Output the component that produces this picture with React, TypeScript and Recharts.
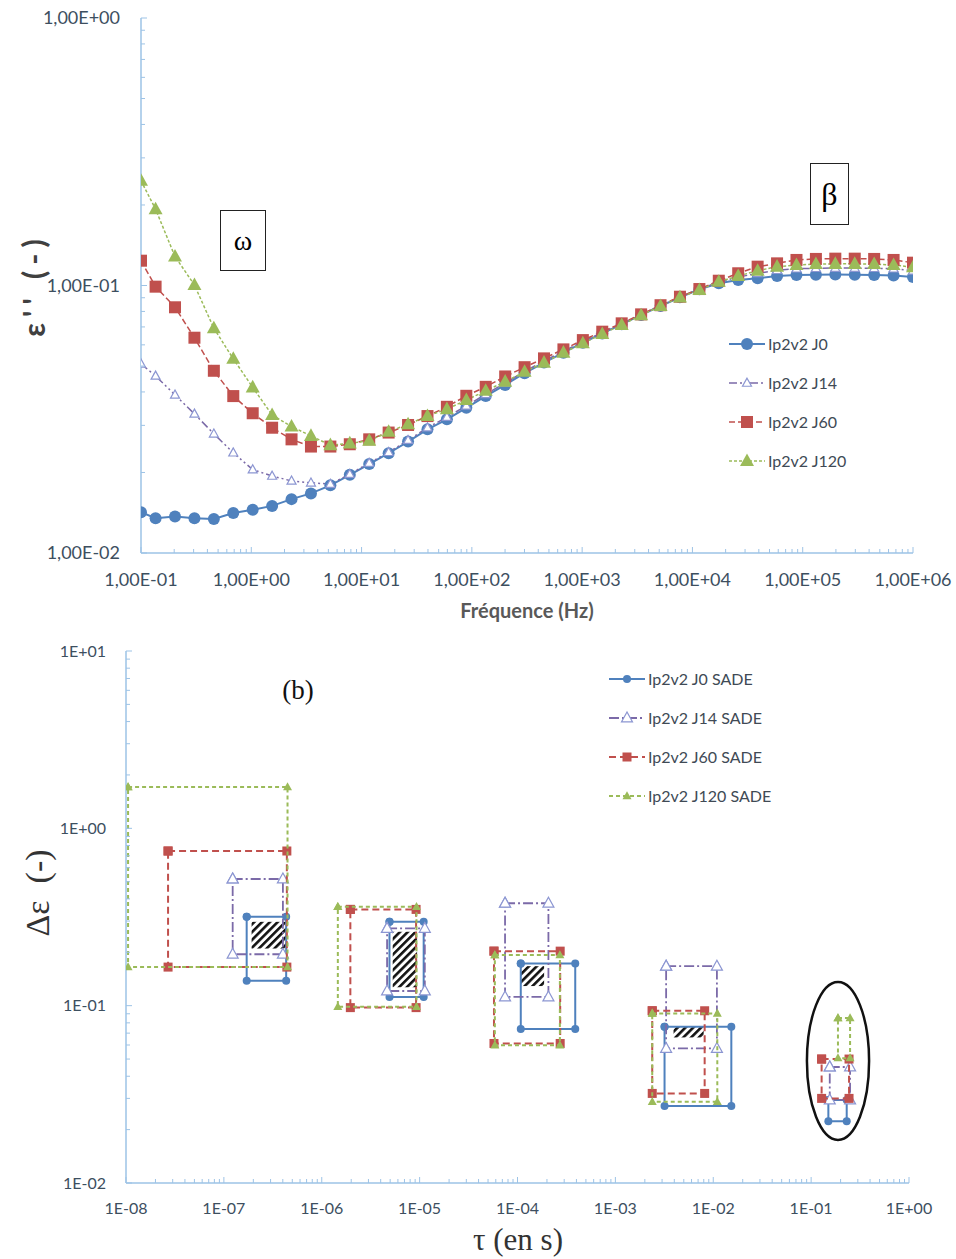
import { LineChart, Line, XAxis, YAxis, ScatterChart, Scatter, ReferenceArea, Legend } from 'recharts';

// ---- (a) epsilon'' vs frequency ----
const FREQ = [
  0.1, 0.1356, 0.2034, 0.3052, 0.4577, 0.6866, 1.03, 1.545, 2.317, 3.476, 5.214, 7.821, 11.73, 17.6, 26.4,
  39.6, 59.39, 89.09, 133.6, 200.5, 300.7, 451, 676.6, 1015, 1522, 2284, 3426, 5139, 7708, 11562, 17342,
  26014, 39021, 58531, 87796, 131694, 197540, 296311, 444467, 666700, 1000000,
];
const EPS_J0 = [
  0.0142, 0.0135, 0.0137, 0.0135, 0.0134, 0.0141, 0.0145, 0.015, 0.0159, 0.0167, 0.0179, 0.0196, 0.0215, 0.0236,
  0.0261, 0.029, 0.0316, 0.0349, 0.0386, 0.0425, 0.047, 0.0515, 0.0561, 0.0611, 0.0662, 0.0716, 0.0776, 0.0838,
  0.0903, 0.0968, 0.1019, 0.1049, 0.1064, 0.1085, 0.1095, 0.1098, 0.11, 0.1098, 0.1095, 0.109, 0.1075,
];
const EPS_J14 = [
  0.0509, 0.0459, 0.039, 0.0331, 0.0279, 0.0237, 0.0205, 0.0194, 0.0186, 0.0183, 0.0181, 0.0197, 0.0217, 0.0238,
  0.0264, 0.0294, 0.0322, 0.0355, 0.0392, 0.0432, 0.0477, 0.0522, 0.0568, 0.0617, 0.0667, 0.072, 0.0779, 0.084,
  0.0905, 0.0968, 0.103, 0.1075, 0.111, 0.114, 0.1155, 0.116, 0.1162, 0.1162, 0.116, 0.1155, 0.1135,
];
const EPS_J60 = [
  0.1238, 0.099, 0.0829, 0.0638, 0.048, 0.0386, 0.0333, 0.0294, 0.0266, 0.025, 0.025, 0.0255, 0.0266, 0.0282,
  0.0301, 0.0325, 0.0352, 0.0387, 0.0418, 0.0457, 0.0495, 0.0534, 0.0577, 0.0625, 0.0672, 0.0722, 0.078, 0.0844,
  0.0908, 0.097, 0.1042, 0.1111, 0.1176, 0.121, 0.1246, 0.1257, 0.126, 0.126, 0.1257, 0.1246, 0.1217,
];
const EPS_J120 = [
  0.2465, 0.1928, 0.1283, 0.1004, 0.0692, 0.0532, 0.0416, 0.0328, 0.0297, 0.0274, 0.0253, 0.0257, 0.0263, 0.0284,
  0.0303, 0.0325, 0.0345, 0.0373, 0.0404, 0.0437, 0.0476, 0.0515, 0.0561, 0.0608, 0.0659, 0.0712, 0.0774, 0.0838,
  0.0903, 0.0962, 0.1033, 0.1085, 0.1136, 0.1176, 0.1193, 0.1203, 0.1205, 0.1205, 0.1203, 0.1193, 0.117,
];
const TOP_NAMES = ['Ip2v2 J0', 'Ip2v2 J14', 'Ip2v2 J60', 'Ip2v2 J120'];
const TOP_X_TICKS = [0.1, 1, 10, 100, 1000, 10000, 100000, 1000000];
const TOP_X_LABELS = ['1,00E-01', '1,00E+00', '1,00E+01', '1,00E+02', '1,00E+03', '1,00E+04', '1,00E+05', '1,00E+06'];
const TOP_Y_TICKS = [0.01, 0.1, 1];
const TOP_Y_LABELS = ['1,00E-02', '1,00E-01', '1,00E+00'];

// ---- (b) relaxation boxes: [tauMin, tauMax, deltaEpsMin, deltaEpsMax] ----
const BOX_J0 = [
  [1.71e-7, 4.33e-7, 0.138, 0.317],
  [4.92e-6, 1.1e-5, 0.112, 0.297],
  [1.08e-4, 3.89e-4, 0.0738, 0.173],
  [3.18e-3, 1.53e-2, 0.0272, 0.076],
  [0.15, 0.231, 0.0223, 0.0294],
];
const BOX_J14 = [
  [1.23e-7, 4.01e-7, 0.195, 0.518],
  [4.65e-6, 1.13e-5, 0.121, 0.273],
  [7.46e-5, 2.07e-4, 0.112, 0.378],
  [3.3e-3, 1.09e-2, 0.0574, 0.167],
  [0.155, 0.25, 0.0294, 0.0451],
];
const BOX_J60 = [
  [2.69e-8, 4.4e-7, 0.165, 0.745],
  [1.96e-6, 9.2e-6, 0.0975, 0.349],
  [5.75e-5, 2.73e-4, 0.0612, 0.203],
  [2.38e-3, 8.17e-3, 0.032, 0.0936],
  [0.128, 0.244, 0.03, 0.05],
];
const BOX_J120 = [
  [1.05e-8, 4.47e-7, 0.165, 1.71],
  [1.46e-6, 9.29e-6, 0.0986, 0.361],
  [5.87e-5, 2.71e-4, 0.0599, 0.193],
  [2.38e-3, 1.1e-2, 0.0287, 0.0904],
  [0.188, 0.25, 0.0506, 0.0851],
];
const HATCHED = [
  [1.92e-7, 4.33e-7, 0.21, 0.297],
  [5.31e-6, 9.42e-6, 0.127, 0.261],
  [1.08e-4, 1.87e-4, 0.129, 0.167],
  [3.93e-3, 7.98e-3, 0.0662, 0.0767],
];
const CIRCLED = [0.0906, 0.391, 0.0175, 0.136];
const BOT_NAMES = ['Ip2v2 J0 SADE', 'Ip2v2 J14 SADE', 'Ip2v2 J60 SADE', 'Ip2v2 J120 SADE'];
const BOT_X_TICKS = [1e-8, 1e-7, 1e-6, 1e-5, 1e-4, 1e-3, 1e-2, 1e-1, 1];
const BOT_X_LABELS = ['1E-08', '1E-07', '1E-06', '1E-05', '1E-04', '1E-03', '1E-02', '1E-01', '1E+00'];
const BOT_Y_TICKS = [0.01, 0.1, 1, 10];
const BOT_Y_LABELS = ['1E-02', '1E-01', '1E+00', '1E+01'];

const SANS = 'Lato, "Open Sans", sans-serif';
const SERIF = '"Liberation Serif", "DejaVu Serif", serif';
const AXIS = '#9dc3e6';
const TICK_TEXT = '#3d4f5f';

const BLUE = '#4f81bd';
const RED = '#c0504d';
const GREEN = '#9bbb59';
const LAVENDER = '#8c96d2';
const PURPLE = '#7b6aa8';

const withMinors = (majors: number[]) =>
  majors.concat(majors.slice(0, -1).flatMap((m) => [2, 3, 4, 5, 6, 7, 8, 9].map((k) => m * k)));

function marker(kind: string, size: number, color: string, cx: number, cy: number, key?: any) {
  if (cx == null || cy == null) return <g key={key} />;
  if (kind === 'circle') return <circle key={key} cx={cx} cy={cy} r={size / 2} fill={color} />;
  if (kind === 'square')
    return <rect key={key} x={cx - size / 2} y={cy - size / 2} width={size} height={size} fill={color} />;
  const h = size * 0.9;
  const pts = `${cx},${cy - h * 0.6} ${cx - size / 2},${cy + h * 0.4} ${cx + size / 2},${cy + h * 0.4}`;
  if (kind === 'hollow') return <polygon key={key} points={pts} fill="#fff" stroke={color} strokeWidth={1.2} />;
  return <polygon key={key} points={pts} fill={color} />;
}

function AxisTick(props: any) {
  const { x, y, payload, majors, labels, side, gap, size } = props;
  const i = majors.findIndex((m: number) => Math.abs(Math.log10(m / payload.value)) < 1e-6);
  const len = i >= 0 ? 6 : 4;
  const textStyle = { fontFamily: SANS, fontSize: size, fill: TICK_TEXT };
  if (side === 'left') {
    const ax = x + gap;
    return (
      <g>
        <line x1={ax} x2={ax + len} y1={y} y2={y} stroke={AXIS} strokeWidth={1} />
        {i >= 0 && (
          <text x={x} y={y} dy="0.35em" textAnchor="end" style={textStyle}>
            {labels[i]}
          </text>
        )}
      </g>
    );
  }
  const ay = y - gap;
  return (
    <g>
      <line x1={x} x2={x} y1={ay} y2={ay - len} stroke={AXIS} strokeWidth={1} />
      {i >= 0 && (
        <text x={x} y={y} dy="0.75em" textAnchor="middle" style={textStyle}>
          {labels[i]}
        </text>
      )}
    </g>
  );
}

function SeriesLegend({ items, names }: any) {
  return (
    <div style={{ fontFamily: SANS, fontSize: 16, color: '#404a55' }}>
      {items.map((it: any, i: number) => (
        <div key={names[i]} style={{ display: 'flex', alignItems: 'center', height: 39 }}>
          <svg width={38} height={16}>
            <line x1={1} x2={37} y1={8} y2={8} stroke={it.line} strokeWidth={it.width} strokeDasharray={it.dash} />
            {marker(it.kind, it.size, it.color, 19, 8)}
          </svg>
          <span style={{ marginLeft: 2 }}>{names[i]}</span>
        </div>
      ))}
    </div>
  );
}

const TOP_STYLE = [
  { key: 'j0', kind: 'circle', size: 12, color: BLUE, line: BLUE, width: 2, dash: undefined },
  { key: 'j14', kind: 'hollow', size: 9, color: LAVENDER, line: PURPLE, width: 1.5, dash: '8 3 2 3 2 3' },
  { key: 'j60', kind: 'square', size: 12, color: RED, line: RED, width: 1.5, dash: '6 3' },
  { key: 'j120', kind: 'triangle', size: 14, color: GREEN, line: GREEN, width: 1.5, dash: '3 2' },
];
const BOT_STYLE = [
  { kind: 'circle', size: 8, color: BLUE, line: BLUE, width: 2, dash: undefined },
  { kind: 'hollow', size: 11, color: LAVENDER, line: PURPLE, width: 1.8, dash: '10 3 2 3' },
  { kind: 'square', size: 9, color: RED, line: RED, width: 2, dash: '7 4' },
  { kind: 'triangle', size: 9, color: GREEN, line: GREEN, width: 2, dash: '4 3' },
];

const topData = FREQ.map((f, i) => ({ f, j0: EPS_J0[i], j14: EPS_J14[i], j60: EPS_J60[i], j120: EPS_J120[i] }));
const boxPoints = (b: number[]) => [
  { x: b[0], y: b[3] },
  { x: b[1], y: b[3] },
  { x: b[1], y: b[2] },
  { x: b[0], y: b[2] },
  { x: b[0], y: b[3] },
];
const BOX_SERIES = [BOX_J0, BOX_J14, BOX_J60, BOX_J120];

const boxStyle: any = {
  position: 'absolute',
  border: '1.5px solid #222',
  display: 'flex',
  alignItems: 'center',
  justifyContent: 'center',
  fontFamily: SERIF,
  background: '#fff',
};
const title = (left: number, top: number, rot: boolean): any => ({
  position: 'absolute',
  left,
  top,
  transform: `translate(-50%, -50%)${rot ? ' rotate(-90deg)' : ''}`,
  whiteSpace: 'pre',
});

export default function App() {
  return (
    <div style={{ position: 'absolute', left: 0, top: 0, width: 956, height: 1259, background: '#fff' }}>
      <div style={{ position: 'absolute', left: 0, top: 0 }}>
        <LineChart width={956} height={600} data={topData} margin={{ top: 18, right: 43, bottom: 0, left: 0 }}>
          <XAxis
            dataKey="f"
            type="number"
            scale="log"
            domain={[0.1, 1000000]}
            allowDataOverflow
            ticks={withMinors(TOP_X_TICKS)}
            interval={0}
            height={47}
            tickSize={0}
            tickMargin={19}
            axisLine={{ stroke: AXIS, strokeWidth: 1.5 }}
            tick={(p: any) => (
              <AxisTick {...p} majors={TOP_X_TICKS} labels={TOP_X_LABELS} side="bottom" gap={19} size={18} />
            )}
          />
          <YAxis
            type="number"
            scale="log"
            domain={[0.01, 1]}
            allowDataOverflow
            ticks={withMinors(TOP_Y_TICKS)}
            interval={0}
            width={141}
            tickSize={0}
            tickMargin={21}
            axisLine={{ stroke: AXIS, strokeWidth: 1.5 }}
            tick={(p: any) => (
              <AxisTick {...p} majors={TOP_Y_TICKS} labels={TOP_Y_LABELS} side="left" gap={21} size={18} />
            )}
          />
          {TOP_STYLE.map((s) => (
            <Line
              key={s.key}
              dataKey={s.key}
              type="linear"
              stroke={s.line}
              strokeWidth={s.width}
              strokeDasharray={s.dash}
              isAnimationActive={false}
              dot={(p: any) => marker(s.kind, s.size, s.color, p.cx, p.cy, `${s.key}-${p.index}`)}
              activeDot={false}
            />
          ))}
          <Legend
            layout="vertical"
            align="center"
            verticalAlign="middle"
            wrapperStyle={{ left: 728, top: 324, width: 'auto' }}
            content={() => <SeriesLegend items={TOP_STYLE} names={TOP_NAMES} />}
          />
        </LineChart>
      </div>

      <div style={{ position: 'absolute', left: 0, top: 630 }}>
        <ScatterChart width={956} height={629} margin={{ top: 21, right: 47, bottom: 0, left: 0 }}>
          <XAxis
            dataKey="x"
            type="number"
            scale="log"
            domain={[1e-8, 1]}
            allowDataOverflow
            ticks={withMinors(BOT_X_TICKS)}
            interval={0}
            height={76}
            tickSize={0}
            tickMargin={19}
            axisLine={{ stroke: AXIS, strokeWidth: 1.5 }}
            tick={(p: any) => (
              <AxisTick {...p} majors={BOT_X_TICKS} labels={BOT_X_LABELS} side="bottom" gap={19} size={16} />
            )}
          />
          <YAxis
            dataKey="y"
            type="number"
            scale="log"
            domain={[0.01, 10]}
            allowDataOverflow
            ticks={withMinors(BOT_Y_TICKS)}
            interval={0}
            width={126}
            tickSize={0}
            tickMargin={20}
            axisLine={{ stroke: AXIS, strokeWidth: 1.5 }}
            tick={(p: any) => (
              <AxisTick {...p} majors={BOT_Y_TICKS} labels={BOT_Y_LABELS} side="left" gap={20} size={16} />
            )}
          />
          {HATCHED.map((h, i) => (
            <ReferenceArea
              key={`hatch-${i}`}
              x1={h[0]}
              x2={h[1]}
              y1={h[2]}
              y2={h[3]}
              shape={(p: any) => (
                <g>
                  <defs>
                    <pattern id={`hatch${i}`} width={5.5} height={5.5} patternUnits="userSpaceOnUse" patternTransform="rotate(45)">
                      <rect x={0} y={0} width={2.6} height={5.5} fill="#111" />
                    </pattern>
                  </defs>
                  <rect x={p.x} y={p.y} width={p.width} height={p.height} fill={`url(#hatch${i})`} />
                </g>
              )}
            />
          ))}
          {BOX_SERIES.map((boxes, si) =>
            boxes.map((b, bi) => {
              const s = BOT_STYLE[si];
              return (
                <Scatter
                  key={`s${si}-${bi}`}
                  name={BOT_NAMES[si]}
                  data={boxPoints(b)}
                  isAnimationActive={false}
                  legendType="none"
                  line={{ stroke: s.line, strokeWidth: s.width, strokeDasharray: s.dash }}
                  shape={(p: any) => marker(s.kind, s.size, s.color, p.cx, p.cy)}
                />
              );
            })
          )}
          <ReferenceArea
            x1={CIRCLED[0]}
            x2={CIRCLED[1]}
            y1={CIRCLED[2]}
            y2={CIRCLED[3]}
            shape={(p: any) => (
              <ellipse
                cx={p.x + p.width / 2}
                cy={p.y + p.height / 2}
                rx={p.width / 2}
                ry={p.height / 2}
                fill="none"
                stroke="#111"
                strokeWidth={2.5}
              />
            )}
          />
          <Legend
            layout="vertical"
            align="center"
            verticalAlign="middle"
            wrapperStyle={{ left: 608, top: 29, width: 'auto' }}
            content={() => <SeriesLegend items={BOT_STYLE} names={BOT_NAMES} />}
          />
        </ScatterChart>
      </div>

      {/* axis titles and annotations */}
      <div
        style={{
          ...title(33, 285, true),
          fontFamily: SANS,
          fontWeight: 700,
          fontSize: 30,
          letterSpacing: 6,
          color: '#404040',
        }}
      >
        ε'' (-)
      </div>
      <div style={{ ...title(527, 610, false), fontFamily: SANS, fontWeight: 700, fontSize: 20, color: '#595959' }}>
        Fréquence (Hz)
      </div>
      <div style={{ ...title(38, 893, true), fontFamily: SERIF, fontSize: 34, color: '#333' }}>{'Δε  (-)'}</div>
      <div style={{ ...title(518, 1240, false), fontFamily: SERIF, fontSize: 31, color: '#333' }}>τ (en s)</div>
      <div style={{ ...title(298, 690, false), fontFamily: SERIF, fontSize: 27, color: '#111' }}>(b)</div>
      <div style={{ ...boxStyle, left: 220, top: 210, width: 44, height: 59, fontSize: 28 }}>ω</div>
      <div style={{ ...boxStyle, left: 810, top: 163, width: 37, height: 60, fontSize: 32 }}>β</div>
    </div>
  );
}
